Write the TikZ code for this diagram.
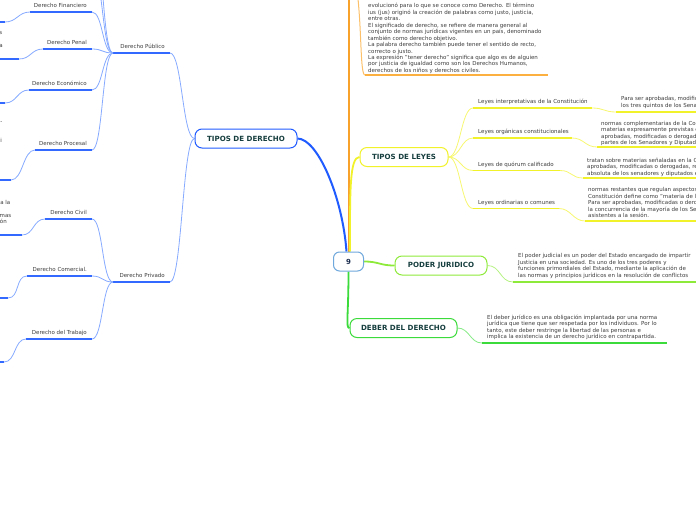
\documentclass[tikz,border=0pt]{standalone}
\usepackage{fontspec}
\setmainfont{DejaVu Sans}
\usetikzlibrary{calc}
\pgfdeclarelayer{background}
\pgfsetlayers{background,main}
\definecolor{bmain}{HTML}{1F5BFF}
\definecolor{bthinc}{HTML}{86AAFF}
\definecolor{bulc}{HTML}{3469FF}
\definecolor{omain}{HTML}{F9A22B}
\definecolor{othinc}{HTML}{FBC069}
\definecolor{oulc}{HTML}{FBB040}
\definecolor{ymain}{HTML}{F2F22A}
\definecolor{ythinc}{HTML}{F7F770}
\definecolor{limec}{HTML}{8EEA3A}
\definecolor{lthinc}{HTML}{B4F280}
\definecolor{gmain}{HTML}{3ADB3A}
\definecolor{gthinc}{HTML}{86EA86}
\definecolor{txtc}{HTML}{3C3C3C}
\definecolor{titc}{HTML}{173E3E}
\definecolor{ninec}{HTML}{1B2D4F}
\definecolor{nineb}{HTML}{6FA8DC}
\begin{document}
\begin{tikzpicture}[x=1pt,y=-1pt,
  txt/.style={font=\fontsize{5.5}{6.45}\selectfont, text=txtc, inner sep=0pt},
  para/.style={txt, align=left, anchor=north west},
  lblL/.style={txt, anchor=base east},
  lblR/.style={txt, anchor=base west},
  mainnode/.style={draw, line width=1pt, rounded corners=7pt, fill=white, minimum height=19pt,
    font=\fontsize{7.1}{8}\selectfont\bfseries, text=titc, inner sep=2pt},
  ninestyle/.style={draw=nineb, line width=1pt, rounded corners=6pt, fill=white, minimum width=30pt,
    minimum height=19pt, font=\fontsize{7}{8}\selectfont\bfseries, text=ninec},
  bthin/.style={draw=bthinc, line width=0.8pt},
  bul/.style={draw=bulc, line width=1.8pt},
  ythin/.style={draw=ythinc, line width=0.8pt},
  yul/.style={draw=ymain, line width=1.8pt},
  lthin/.style={draw=lthinc, line width=0.8pt},
  lul/.style={draw=limec, line width=1.6pt},
  gthin/.style={draw=gthinc, line width=0.8pt},
  gul/.style={draw=gmain, line width=1.6pt},
  othin/.style={draw=othinc, line width=1pt},
  oul/.style={draw=oulc, line width=1.8pt}
]
\useasboundingbox (0,0) rectangle (696,520);
\clip (0,0) rectangle (696,520);

% ---------- main nodes
\node[ninestyle] (c9) at (348.5,261.5) {9};
\node[mainnode, draw=bmain, minimum width=102pt] (td) at (246,138.5) {TIPOS DE DERECHO};
\node[mainnode, draw=ymain, minimum width=88pt] (tl) at (404,157) {TIPOS DE LEYES};
\node[mainnode, draw=limec, minimum width=92pt] (pj) at (441,265.5) {PODER JURIDICO};
\node[mainnode, draw=gmain, minimum width=107pt] (dd) at (403.5,328) {DEBER DEL DERECHO};

% ---------- coordinates (blue side)
\coordinate (pubL) at (113,53);  \coordinate (pubR) at (170,53);
\coordinate (prvL) at (113,282); \coordinate (prvR) at (170,282);
\coordinate (finL) at (30,12);   \coordinate (finR) at (92,12);  \coordinate (fing) at (5,22);
\coordinate (penL) at (43,49);   \coordinate (penR) at (92,49);  \coordinate (peng) at (19,59);
\coordinate (ecoL) at (29,90);   \coordinate (ecoR) at (92,90);  \coordinate (ecog) at (5,103);
\coordinate (proL) at (35,150);  \coordinate (proR) at (92,150); \coordinate (prog) at (11,180);
\coordinate (civL) at (45,219);  \coordinate (civR) at (92,219); \coordinate (civg) at (22,235);
\coordinate (comL) at (27,276);  \coordinate (comR) at (92,276); \coordinate (comg) at (8,298);
\coordinate (traL) at (26,339);  \coordinate (traR) at (92,339); \coordinate (trag) at (4,362);
\coordinate (offA) at (92,-30);  \coordinate (offB) at (92,-70);

% ---------- coordinates (right side)
\coordinate (liL) at (473,108);   \coordinate (liR) at (592,108);   \coordinate (lig) at (616,112);
\coordinate (loL) at (473,138);   \coordinate (loR) at (572,138);   \coordinate (log) at (597,147);
\coordinate (lqL) at (473,170.5); \coordinate (lqR) at (560,170.5); \coordinate (lqg) at (583,178);
\coordinate (lcL) at (473,208.5); \coordinate (lcR) at (559,208.5); \coordinate (lcg) at (585,221);
\coordinate (pjg) at (513,282);
\coordinate (ddg) at (482,343);
\coordinate (otop) at (348.5,-10);
\coordinate (oq) at (357,-10);
\coordinate (og) at (365,75); \coordinate (ogR) at (548,75);

\begin{pgfonlayer}{background}
% main connectors
\draw[line width=2pt, bmain] (td.east) .. controls +(20,0) and +(-4,-55) .. ($(c9.north)+(-2,0)$);
\draw[line width=2pt, omain] (c9.north) -- (otop);
\draw[line width=1.8pt, ymain] ($(c9.north)+(1.5,0)$) .. controls +(0,-60) and +(-10,0) .. (tl.west);
\draw[line width=1.8pt, limec] (c9.east) .. controls +(15,0) and +(-15,0) .. (pj.west);
\draw[line width=1.8pt, gmain] (c9.south) .. controls +(0,45) and +(-4,0) .. (dd.west);

% blue subtree
\draw[bthin] (td.west) .. controls +(-12,0) and +(12,0) .. (pubR);
\draw[bthin] (td.west) .. controls +(-12,0) and +(12,0) .. (prvR);
\draw[bul] (pubL) -- (pubR);
\draw[bul] (prvL) -- (prvR);
\foreach \c in {fin,pen,eco,pro}{
  \draw[bthin] (pubL) .. controls +(-11,0) and +(11,0) .. (\c R);
  \draw[bul] (\c L) -- (\c R);
  \draw[bthin] (\c L) .. controls +(-12,0) and +(12,0) .. (\c g);
  \draw[bul] (\c g) -- ++(-30,0);
}
\draw[bthin] (pubL) .. controls +(-11,0) and +(11,0) .. (offA);
\draw[bthin] (pubL) .. controls +(-11,0) and +(11,0) .. (offB);
\foreach \c in {civ,com,tra}{
  \draw[bthin] (prvL) .. controls +(-11,0) and +(11,0) .. (\c R);
  \draw[bul] (\c L) -- (\c R);
  \draw[bthin] (\c L) .. controls +(-12,0) and +(12,0) .. (\c g);
  \draw[bul] (\c g) -- ++(-30,0);
}

% yellow subtree
\foreach \c in {li,lo,lq,lc}{
  \draw[ythin] (tl.east) .. controls +(12,0) and +(-12,0) .. (\c L);
  \draw[yul] (\c L) -- (\c R);
  \draw[ythin] (\c R) .. controls +(12,0) and +(-12,0) .. (\c g);
  \draw[yul] (\c g) -- ++(130,0);
}

% lime / green
\draw[lthin] (pj.east) .. controls +(13,0) and +(-13,0) .. (pjg);
\draw[lul] (pjg) -- ++(200,0);
\draw[gthin] (dd.east) .. controls +(12,0) and +(-12,0) .. (ddg);
\draw[gul] (ddg) -- ++(185,0);

% orange
\draw[othin] (oq) .. controls +(5,40) and +(-5,0) .. (og);
\draw[oul] (og) -- (ogR);
\end{pgfonlayer}

% ---------- labels (blue)
\node[lblL] (lpub) at (165,48.5) {Derecho Público};
\node[lblL] (lprv) at (165,277.5) {Derecho Privado};
\node[lblL] (lfin) at (87,7) {Derecho Financiero};
\node[lblL] (lpen) at (87,44.5) {Derecho Penal};
\node[lblL] (leco) at (87,85.5) {Derecho Económico};
\node[lblL] (lpro) at (87,145.5) {Derecho Procesal};
\node[lblL] (lciv) at (87,214.5) {Derecho Civil};
\node[lblL] (lcom) at (87,271.5) {Derecho Comercial.};
\node[lblL] (ltra) at (87,334.5) {Derecho del Trabajo};

% fragments at the left edge
\node[lblL] (fr1) at (2.5,34.5) {s};
\node[lblL] (fr2) at (3,47.5) {a};
\node[lblL] (fr3) at (2.5,123.5) {-};
\node[lblL] (fr4) at (2,142.5) {i};
\node[lblL] (fr5) at (10.5,204.5) {a la};
\node[lblL] (fr6) at (11.5,217.5) {mas};
\node[lblL] (fr7) at (7,223.5) {ón};

% ---------- labels (yellow)
\node[lblR] (lli) at (478,103.5) {Leyes interpretativas de la Constitución};
\node[lblR] (llo) at (478,133.5) {Leyes orgánicas constitucionales};
\node[lblR] (llq) at (478,166) {Leyes de quórum calificado};
\node[lblR] (llc) at (478,204) {Leyes ordinarias o comunes};

% ---------- paragraphs
\node[para] (tli) at (621,96.6) {Para ser aprobadas, modificadas o derogadas, requieren de\\los tres quintos de los Senadores y Diputados en ejercicio.};
\node[para] (tlo) at (601,120.6) {normas complementarias de la Constitución que regulan\\materias expresamente previstas en ella. Para ser\\aprobadas, modificadas o derogadas, requieren de las cuatro séptimas\\partes de los Senadores y Diputados en ejercicio.};
\node[para] (tlq) at (587,157.6) {tratan sobre materias señaladas en la Constitución. Para ser\\aprobadas, modificadas o derogadas, requieren de la mayoría\\absoluta de los senadores y diputados en ejercicio.};
\node[para] (tlc) at (588,187.6) {normas restantes que regulan aspectos que la\\Constitución define como "materia de ley".\\Para ser aprobadas, modificadas o derogadas, requieren\\la concurrencia de la mayoría de los Senadores y Diputados\\asistentes a la sesión.};
\node[para] (tpj) at (518,253.6) {El poder judicial es un poder del Estado encargado de impartir\\Justicia en una sociedad. Es uno de los tres poderes y\\funciones primordiales del Estado, mediante la aplicación de\\las normas y principios jurídicos en la resolución de conflictos};
\node[para] (tdd) at (487,314.6) {El deber jurídico es una obligación implantada por una norma\\jurídica que tiene que ser respetada por los individuos. Por lo\\tanto, este deber restringe la libertad de las personas e\\implica la existencia de un derecho jurídico en contrapartida.};
\node[para] (tor) at (368,3.3) {evolucionó para lo que se conoce como Derecho. El término\\ius (jus) originó la creación de palabras como justo, justicia,\\entre otras.\\El significado de derecho, se refiere de manera general al\\conjunto de normas jurídicas vigentes en un país, denominado\\también como derecho objetivo.\\La palabra derecho también puede tener el sentido de recto,\\correcto o justo.\\La expresión "tener derecho" significa que algo es de alguien\\por justicia de igualdad como son los Derechos Humanos,\\derechos de los niños y derechos civiles.};
\end{tikzpicture}
\end{document}
